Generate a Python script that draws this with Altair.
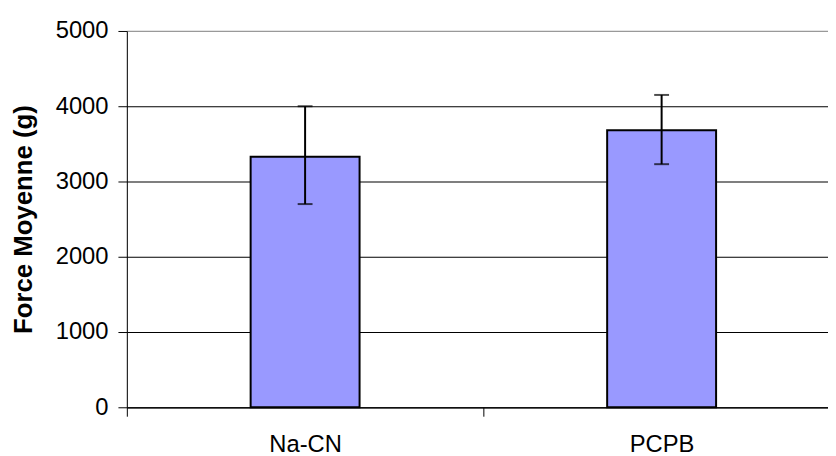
import altair as alt
import pandas as pd

categories = ["Na-CN", "PCPB"]
means = [3330, 3680]
err_low = [2700, 3230]
err_high = [4000, 4150]

df = pd.DataFrame({"cat": categories, "mean": means, "lo": err_low, "hi": err_high})

FONT = "Liberation Sans"
FS = 24

xscale = alt.Scale(domain=categories, range=[0, 720], paddingInner=0, paddingOuter=0)
yscale = alt.Scale(domain=[0, 5000], nice=False, zero=True)

x = alt.X("cat:N", scale=xscale, sort=categories, title=None,
          axis=alt.Axis(labelAngle=0, tickBand="extent", tickSize=9, tickColor="black",
                        domainColor="black", domainWidth=1, labelFont=FONT, labelFontSize=FS,
                        labelColor="black", labelPadding=17, grid=False))

yaxis = alt.Axis(values=[0, 1000, 2000, 3000, 4000, 5000], format="d", tickSize=9,
                 tickColor="black", domainColor="black", labelFont=FONT, labelFontSize=FS,
                 labelColor="black", labelPadding=10, title="Force Moyenne (g)",
                 titleFont=FONT, titleFontSize=26, titleFontWeight="bold", titleColor="black",
                 titlePadding=19, grid=True,
                 gridColor=alt.condition("datum.value == 5000", alt.value("#999999"), alt.value("black")),
                 gridWidth=1.2)

base = alt.Chart(df)

bars = base.mark_bar(size=110, color="#9999FF", stroke="black", strokeWidth=2).encode(
    x=x, y=alt.Y("mean:Q", scale=yscale, axis=yaxis))

rule = base.mark_rule(color="black", strokeWidth=2).encode(
    x=alt.X("cat:N", scale=xscale, sort=categories), y="lo:Q", y2="hi:Q")

cap_lo = base.mark_tick(color="black", size=15, thickness=2).encode(
    x=alt.X("cat:N", scale=xscale, sort=categories), y="lo:Q")
cap_hi = base.mark_tick(color="black", size=15, thickness=2).encode(
    x=alt.X("cat:N", scale=xscale, sort=categories), y="hi:Q")

chart = alt.layer(bars, rule, cap_lo, cap_hi).properties(
    width=708, height=380,
    autosize=alt.AutoSizeParams(type="none"),
    padding={"left": 120, "top": 21, "right": 0, "bottom": 47},
).configure_view(stroke=None).configure(background="white")

chart.save("out.html", embed_options={"renderer": "svg", "actions": False})
